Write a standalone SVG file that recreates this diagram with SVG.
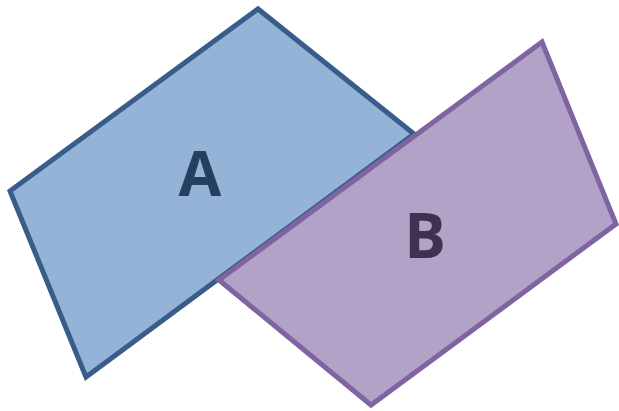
<svg xmlns="http://www.w3.org/2000/svg" width="619" height="411" viewBox="0 0 619 411">
<style>
.lbl{font-family:"Open Sans","Liberation Sans",sans-serif;font-weight:bold;font-size:62px;text-anchor:middle}
</style>
<rect width="619" height="411" fill="#ffffff"/>
<g id="nodeA">
<polygon points="10,191 258,9 414,134 86,377" fill="#95B3D7" stroke="#385D8A" stroke-width="5" stroke-linejoin="miter"/>
<text class="lbl" x="200" y="196" fill="#243F60">A</text>
</g>
<g id="nodeB">
<polygon points="219,280 542,42 616,224 371,405" fill="#B3A2C7" stroke="#8064A2" stroke-width="5" stroke-linejoin="miter"/>
<text class="lbl" x="425" y="258" fill="#3F3151">B</text>
</g>
<g id="connectors"/>
</svg>
